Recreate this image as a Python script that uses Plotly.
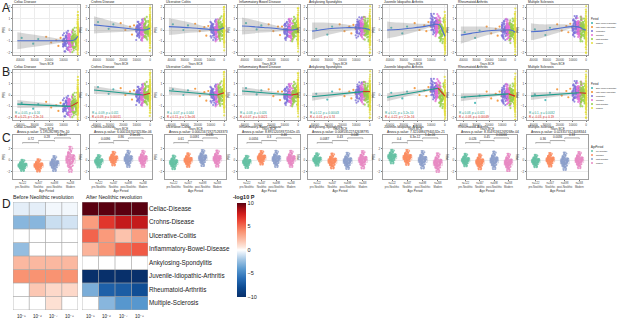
import plotly.graph_objects as go

W, H = 617, 321
def fx(p): return p / W
def fy(p): return 1 - p / H

FONT = "Liberation Sans, Arial, sans-serif"

# ------------------------------------------------------------------ data
TITLES_AB = ["Celiac Disease", "Crohns Disease", "Ulcerative Colitis", "Inflammatory Bowel Disease",
             "Ankylosing Spondylitis", "Juvenile Idiopathic Arthritis", "Rheumatoid Arthritis", "Multiple Sclerosis"]
ROW_LABELS = ["Celiac-Disease", "Crohns-Disease", "Ulcerative-Colitis", "Inflammatory-Bowel-Disease",
              "Ankylosing-Spondylitis", "Juvenile-Idiopathic-Arthritis", "Rheumatoid-Arthritis", "Multiple-Sclerosis"]

YEAR_TICKS = [-40000, -30000, -20000, -10000, 0]
YEAR_TICK_TEXT = ["40000", "30000", "20000", "10000", "0"]
PRS_TICKS = [-2, -1, 0, 1, 2]

PERIODS = ["Early Upper Paleolithic", "Late Upper Paleolithic", "Mesolithic", "Neolithic", "post-Neolithic", "Modern"]
PERIOD_COLORS = ["#36B3B0", "#F28E2B", "#7B6FD8", "#E36FD6", "#93CF4A", "#E3DF3A"]

# loess (panel A)
LOESS_X = [-42000, -34000, -26000, -18000, -11000, -7000, -4000, -2000, 0]
LOESS_Y = [
    [-0.95, -0.95, -0.95, -0.95, -0.95, -0.95, -0.93, -0.85, -0.55],
    [0.45, 0.35, 0.25, 0.15, 0.05, 0.0, 0.0, 0.05, 0.15],
    [0.3, 0.25, 0.2, 0.12, 0.05, 0.0, 0.0, 0.1, 0.2],
    [0.35, 0.3, 0.22, 0.15, 0.05, 0.0, 0.0, 0.05, 0.1],
    [-0.1, 0.05, 0.15, 0.2, 0.2, 0.18, 0.15, 0.08, 0.0],
    [0.0, 0.05, 0.15, 0.25, 0.4, 0.5, 0.45, 0.0, -0.55],
    [-0.45, -0.3, -0.15, -0.05, 0.0, 0.0, 0.0, -0.05, -0.2],
    [-0.15, -0.1, 0.05, 0.2, 0.3, 0.3, 0.2, 0.05, 0.0],
]
LOESS_HW = [0.75, 0.6, 0.45, 0.3, 0.15, 0.08, 0.06, 0.06, 0.12]

# linear fits (panel B)
OLD_X = [-42000, -5000]
OLD_Y = [[-0.8, -1.0], [0.44, 0.0], [0.38, 0.0], [0.35, 0.0],
         [-0.15, 0.3], [-0.2, 0.6], [-0.2, 0.1], [-0.1, 0.2]]
OLD_HW = [0.35, 0.06]
NEW_X = [-5000, 0]
NEW_Y = [[-1.0, -0.65], [0.0, 0.15], [0.0, 0.2], [0.0, 0.1],
         [0.3, 0.3], [0.6, -0.1], [0.1, -0.1], [0.2, 0.15]]
NEW_HW = [0.05, 0.07]
B_STATS_OLD = ["R = -0.05, p = 0.16", "R = -0.09, p = 0.011", "R = -0.07, p = 0.044", "R = -0.08, p = 0.026",
               "R = 0.12, p = 0.00043", "R = 0.21, p = 5.2e-10", "R = 0.08, p = 0.021", "R = 0.1, p = 0.0032"]
B_STATS_NEW = ["R = 0.25, p < 2.2e-16", "R = 0.09, p = 0.00011", "R = 0.11, p = 1.3e-06", "R = 0.07, p = 0.0021",
               "R = -0.01, p = 0.74", "R = -0.22, p < 2.2e-16", "R = -0.08, p = 0.00049", "R = -0.03, p = 0.19"]

# sample clouds (estimated per period: Mesolithic, Neolithic, post-Neolithic, Modern)
CLOUD_MEAN = [
    [-1.0, -1.0, -0.9, -0.5],
    [0.0, 0.0, 0.05, 0.15],
    [0.0, -0.05, 0.1, 0.2],
    [0.0, 0.0, 0.05, 0.1],
    [0.2, 0.15, 0.05, 0.0],
    [0.5, 0.4, -0.1, -0.5],
    [0.0, 0.0, -0.1, -0.2],
    [0.3, 0.2, 0.05, 0.0],
]
CLOUD_SD = [0.42, 0.45, 0.5, 0.95]
CLOUD_X0 = [-10500, -7000, -4500, -200]
CLOUD_X1 = [-5500, -3000, -300, 200]
U = [0.12, 0.85, 0.47, 0.33, 0.91, 0.06, 0.58, 0.74, 0.21, 0.39, 0.97, 0.64, 0.15, 0.52, 0.81,
     0.28, 0.69, 0.03, 0.44, 0.88, 0.36, 0.77, 0.09, 0.61, 0.25, 0.94, 0.49, 0.18, 0.71, 0.55]
Z = [0.3, -1.2, 0.8, -0.1, 1.5, -0.6, 0.0, -1.8, 0.5, 1.1, -0.4, 0.2, -0.9, 1.9, -0.2, 0.6, -1.4, 0.1,
     0.9, -0.7, -0.3, 1.3, -1.0, 0.4, -2.1, 0.7, -0.5, 1.7, -0.05, 0.15,
     1.0, -0.8, 0.35, -1.6, 0.55, -0.25, 1.25, -0.45, 0.05, -1.1, 0.75, 2.2, -0.15, -0.65, 0.45, -1.3, 0.25, -0.35]

# older sparse samples
SPARSE_X = [-39000, -31000, -27500, -22000, -18500, -15000, -13500, -12000, -10500]
SPARSE_Y = [
    [-0.7, -1.2, -0.8, -0.6, -1.1, -0.9, -1.4, -0.7, -1.0],
    [0.7, 0.1, 0.5, 0.6, 0.0, 0.3, -0.4, 0.4, 0.1],
    [0.5, 0.0, 0.4, 0.55, -0.1, 0.25, -0.5, 0.35, 0.0],
    [0.6, 0.05, 0.4, 0.5, -0.1, 0.3, -0.45, 0.3, 0.05],
    [0.1, -0.4, 0.3, 0.5, -0.1, 0.3, -0.3, 0.45, 0.1],
    [0.2, -0.3, 0.3, 0.6, 0.0, 0.4, -0.1, 0.7, 0.3],
    [-0.2, -0.7, -0.05, 0.3, -0.3, 0.1, -0.5, 0.3, -0.1],
    [0.05, -0.45, 0.2, 0.5, -0.05, 0.35, -0.2, 0.55, 0.2],
]

# panel C
AGE_GROUPS = ["pre-Neolithic", "Neolithic", "post-Neolithic", "Modern"]
AGE_N = ["n=122", "n=347", "n=698", "n=268"]
AGE_COLORS = ["#66C2A5", "#FC8D62", "#8DA0CB", "#E78AC3"]
C_MEAN = [
    [-0.9, -0.9, -0.6, 0.1],
    [-0.2, 0.25, 0.2, 0.2],
    [-0.4, 0.0, 0.35, 0.25],
    [-0.3, 0.4, 0.2, 0.2],
    [0.1, -0.15, -0.15, 0.05],
    [0.6, 0.45, 0.05, -0.45],
    [0.0, -0.3, -0.05, -0.4],
    [-0.15, 0.05, -0.2, 0.0],
]
C_SD = [
    [0.45, 0.5, 0.6, 1.0],
    [0.5, 0.55, 0.65, 0.65],
    [0.55, 0.55, 0.65, 0.65],
    [0.5, 0.55, 0.65, 0.65],
    [0.5, 0.6, 0.65, 0.7],
    [0.55, 0.6, 0.7, 0.75],
    [0.5, 0.6, 0.7, 0.7],
    [0.5, 0.55, 0.7, 0.65],
]
C_ANOVA = ["Anova p-value: 5.19528298579e-10", "Anova p-value: 6.00011670232536e-06",
           "Anova p-value: 0.000216719275263373", "Anova p-value: 8.89152059371562e-05",
           "Anova p-value: 0.00853522742638795", "Anova p-value: 7.32168847940532e-21",
           "Anova p-value: 8.35491361269268e-04", "Anova p-value: 0.0233573124038344"]
C_PAIR_P = [["0.72", "0.28", "1.4e-07"], ["0.0096", "0.86", "2.5e-05"], ["0.61", "0.0091", "0.035"],
            ["0.0056", "0.3", "0.46"], ["0.0087", "0.43", "0.048"], ["0.4", "6.3e-12", "1.4e-06"],
            ["0.026", "0.45", "0.00066"], ["0.36", "0.0036", "0.33"]]

# panel D
THRESH = ["10⁻⁵", "10⁻⁶", "10⁻⁷", "10⁻⁸"]
BEFORE = [
    [-0.6, -0.6, -0.3, -0.3],
    [-2.8, -2.8, -1.2, -1.0],
    [0, 0, 0, 0],
    [-2.5, 0, 0, 0],
    [2.4, 2.4, 2.4, 2.4],
    [3.9, 3.9, 3.9, 3.9],
    [0, 1.8, 1.2, 1.2],
    [0, 0, 0.9, 0],
]
AFTER = [
    [10, 10, 10, 10],
    [3.5, 6.8, 8.0, 8.0],
    [5.3, 3.6, 2.0, 3.4],
    [2.6, 3.8, 5.2, 5.6],
    [0, 0, 0, 0],
    [-10, -10, -10, -10],
    [-3.2, -6.8, -7.0, -7.8],
    [0, -2.8, -4.2, -4.2],
]

# ------------------------------------------------------------------ layout helpers
PANEL_X = [(13, 80), (90, 152), (165, 226), (238, 300), (308, 372), (383, 447), (457, 517), (527, 588)]
A_Y = (5, 55)
B_Y = (70, 120)
C_Y = (135, 179)

fig = go.Figure()
layout = {}
shapes = []
annotations = []
counter = [0]

def new_axes(xpx, ypx, xcfg, ycfg):
    counter[0] += 1
    n = counter[0]
    s = "" if n == 1 else str(n)
    layout["xaxis" + s] = dict(domain=[fx(xpx[0]), fx(xpx[1])], anchor="y" + s, **xcfg)
    layout["yaxis" + s] = dict(domain=[fy(ypx[1]), fy(ypx[0])], anchor="x" + s, **ycfg)
    return "x" + s, "y" + s

def panel_style(**kw):
    d = dict(showgrid=True, gridcolor="#ececec", gridwidth=0.5, zeroline=False, showline=True,
             linecolor="#a0a0a0", linewidth=0.6, mirror=True, ticks="outside", ticklen=1.5,
             tickcolor="#777", tickwidth=0.5, tickangle=0,
             tickfont=dict(size=3, color="#444", family=FONT))
    d.update(kw)
    return d

def ax_title(text, size=3):
    return dict(text=text, font=dict(size=size, color="#333", family=FONT), standoff=1)

def txt(x, y, text, size, xref="paper", yref="paper", color="#222", xanchor="left", yanchor="middle", bold=False):
    if bold:
        text = "<b>" + text + "</b>"
    annotations.append(dict(x=x, y=y, xref=xref, yref=yref, text=text, showarrow=False,
                            xanchor=xanchor, yanchor=yanchor, borderpad=0,
                            font=dict(size=size, color=color, family=FONT)))

def add_cloud(xa, ya, i):
    # older sparse samples
    for k, (lo, hi) in enumerate([(-50000, -25000), (-25000, -9000)]):
        xs = [x for x in SPARSE_X if lo <= x < hi]
        ys = [SPARSE_Y[i][j] for j, x in enumerate(SPARSE_X) if lo <= x < hi]
        fig.add_trace(go.Scatter(x=xs, y=ys, mode="markers", xaxis=xa, yaxis=ya, showlegend=False,
                                 marker=dict(size=2.2, color=PERIOD_COLORS[k], opacity=0.85), hoverinfo="skip"))
    n = len(U)
    for k in range(4):
        xs, ys = [], []
        for p in range(2):
            rz = (k * 11 + p * 17 + i * 3) % len(Z)
            zz = Z[rz:] + Z[:rz]
            for j in range(n):
                xs.append(CLOUD_X0[k] + (CLOUD_X1[k] - CLOUD_X0[k]) * U[(j + 5 * k + 13 * p) % n])
                ys.append(CLOUD_MEAN[i][k] + CLOUD_SD[k] * zz[j])
        fig.add_trace(go.Scatter(x=xs, y=ys, mode="markers", xaxis=xa, yaxis=ya, showlegend=False,
                                 marker=dict(size=2.2, color=PERIOD_COLORS[k + 2], opacity=0.8), hoverinfo="skip"))

def add_band(xa, ya, xs, ys, hw, line_color, shape="linear"):
    up = [y + h for y, h in zip(ys, hw)]
    lo = [y - h for y, h in zip(ys, hw)]
    fig.add_trace(go.Scatter(x=xs + xs[::-1], y=up + lo[::-1], fill="toself", mode="none",
                             fillcolor="rgba(140,140,140,0.35)", xaxis=xa, yaxis=ya, showlegend=False,
                             hoverinfo="skip", line=dict(shape=shape)))
    fig.add_trace(go.Scatter(x=xs, y=ys, mode="lines", xaxis=xa, yaxis=ya, showlegend=False,
                             line=dict(color=line_color, width=1.1, shape=shape), hoverinfo="skip"))

X_RANGE = [-45000, 1500]
Y_RANGE = [-2.2, 2.2]

# ------------------------------------------------------------------ panel A
for i in range(8):
    xa, ya = new_axes(PANEL_X[i], A_Y,
                      panel_style(range=X_RANGE, tickvals=YEAR_TICKS, ticktext=YEAR_TICK_TEXT,
                                  title=ax_title("Years BCE")),
                      panel_style(range=Y_RANGE, tickvals=PRS_TICKS, title=ax_title("PRS")))
    add_cloud(xa, ya, i)
    add_band(xa, ya, LOESS_X, LOESS_Y[i], LOESS_HW, "#4F6FD0", shape="spline")
    txt(fx(PANEL_X[i][0]), fy(A_Y[0] - 2.5), TITLES_AB[i], 3.3)

# ------------------------------------------------------------------ panel B
for i in range(8):
    xa, ya = new_axes(PANEL_X[i], B_Y,
                      panel_style(range=X_RANGE, tickvals=YEAR_TICKS, ticktext=YEAR_TICK_TEXT,
                                  title=ax_title("Years BCE")),
                      panel_style(range=Y_RANGE, tickvals=PRS_TICKS, title=ax_title("PRS")))
    add_cloud(xa, ya, i)
    add_band(xa, ya, OLD_X, OLD_Y[i], OLD_HW, "#1E9C8C")
    add_band(xa, ya, NEW_X, NEW_Y[i], NEW_HW, "#D7301F")
    txt(fx(PANEL_X[i][0]), fy(B_Y[0] - 2.5), TITLES_AB[i], 3.3)
    txt(-44000, -1.55, B_STATS_OLD[i], 3, xref=xa, yref=ya, color="#1E9C8C")
    txt(-44000, -1.95, B_STATS_NEW[i], 3, xref=xa, yref=ya, color="#D7301F")

# ------------------------------------------------------------------ panel C
C_RANGE = [-3.2, 4.3]
BRACKET_Y = [3.0, 3.35, 3.8]
for i in range(8):
    xa, ya = new_axes(PANEL_X[i], C_Y,
                      panel_style(range=[-0.6, 3.6], tickvals=[0, 1, 2, 3],
                                  ticktext=[AGE_N[g] + "<br>" + AGE_GROUPS[g] for g in range(4)],
                                  showgrid=False, tickfont=dict(size=2.6, color="#444", family=FONT),
                                  title=ax_title("Age Period")),
                      panel_style(range=C_RANGE, tickvals=[-2, 0, 2], title=ax_title("PRS")))
    for g in range(4):
        n = len(Z)
        xs, ys = [], []
        for p in range(2):
            rot = (g * 13 + i * 5 + p * 23) % n
            zz = Z[rot:] + Z[:rot]
            ys += [C_MEAN[i][g] + C_SD[i][g] * z for z in zz]
            xs += [g] * n
        fig.add_trace(go.Box(x=xs, y=ys, xaxis=xa, yaxis=ya, showlegend=False,
                             boxpoints="all", jitter=0.85, pointpos=0, width=0.6,
                             marker=dict(size=1.8, color=AGE_COLORS[g], opacity=0.85),
                             line=dict(color=AGE_COLORS[g], width=0.4),
                             fillcolor="rgba(230,230,230,0.25)", hoverinfo="skip"))
    for b in range(3):
        y0 = BRACKET_Y[b]
        shapes.append(dict(type="path", xref=xa, yref=ya,
                           path=f"M {b},{y0 - 0.15} L {b},{y0} L {b + 1},{y0} L {b + 1},{y0 - 0.15}",
                           line=dict(color="#555", width=0.5)))
        txt(b + 0.5, y0 + 0.05, C_PAIR_P[i][b], 3, xref=xa, yref=ya, xanchor="center", yanchor="bottom")
    txt(fx(PANEL_X[i][0]), fy(127), ROW_LABELS[i], 3.3)
    txt(fx(PANEL_X[i][0] + 3), fy(132), C_ANOVA[i], 3.3)

# ------------------------------------------------------------------ panel D
D_Y = (202, 310)
COLORSCALE = [[0.0, "#08306b"], [0.1, "#0d4a91"], [0.2, "#2a6fb7"], [0.3, "#5c9bd0"], [0.4, "#a6c8e5"],
              [0.47, "#e4eef8"], [0.5, "#ffffff"], [0.53, "#fde8de"], [0.6, "#fcc2ac"], [0.7, "#f9906f"],
              [0.8, "#ee4d3a"], [0.88, "#d31f1e"], [0.94, "#a50f15"], [1.0, "#5a0010"]]

for side, (data, xpx) in enumerate([(BEFORE, (13, 78)), (AFTER, (82, 148))]):
    ycfg = dict(range=[7.5, -0.5], showgrid=False, zeroline=False, tickvals=list(range(8)),
                showticklabels=False, ticks="")
    if side == 1:
        ycfg.update(side="right", showticklabels=True, ticktext=ROW_LABELS,
                    tickfont=dict(size=6.3, color="#222", family=FONT))
    xa, ya = new_axes(xpx, D_Y,
                      dict(range=[-0.5, 3.5], showgrid=False, zeroline=False, tickvals=[0, 1, 2, 3],
                           showticklabels=False, ticks=""),
                      ycfg)
    hm = dict(z=data, x=[0, 1, 2, 3], y=list(range(8)), xaxis=xa, yaxis=ya, zmin=-10, zmax=10,
              colorscale=COLORSCALE, hoverinfo="skip")
    if side == 0:
        hm["showscale"] = False
    else:
        hm["colorbar"] = dict(x=fx(237), xanchor="left", y=fy(250), yanchor="middle",
                              len=94, lenmode="pixels", thickness=9, thicknessmode="pixels",
                              tickvals=[-10, -5, 0, 5, 10], ticks="", outlinewidth=0,
                              tickfont=dict(size=5.5, color="#222", family=FONT), xpad=0, ypad=0)
    fig.add_trace(go.Heatmap(**hm))
    for c in range(5):
        shapes.append(dict(type="line", xref=xa, yref=ya, x0=c - 0.5, x1=c - 0.5, y0=-0.5, y1=7.5,
                           line=dict(color="#a8a8a8", width=0.7)))
    for r in range(9):
        shapes.append(dict(type="line", xref=xa, yref=ya, x0=-0.5, x1=3.5, y0=r - 0.5, y1=r - 0.5,
                           line=dict(color="#a8a8a8", width=0.7)))
    for c in range(4):
        txt(c, fy(316), THRESH[c], 4.5, xref=xa, yref="paper", xanchor="center", yanchor="middle")

txt(fx(12), fy(197), "Before Neolithic revolution", 5.2)
txt(fx(85), fy(197), "After Neolithic revolution", 5.2)
txt(fx(232), fy(197), "-log10 P", 5.5, bold=True)

# ------------------------------------------------------------------ panel letters
for letter, ypos in [("A", 8), ("B", 72), ("C", 138), ("D", 204)]:
    txt(fx(1), fy(ypos), letter, 12)

# ------------------------------------------------------------------ manual legends
def legend(x0, ytitle, title, labels, colors, step):
    txt(fx(x0), fy(ytitle), title, 2.6)
    for j, (lab, col) in enumerate(zip(labels, colors)):
        yy = ytitle + 4 + j * step
        shapes.append(dict(type="circle", xref="paper", yref="paper",
                           x0=fx(x0 + 1), x1=fx(x0 + 3), y0=fy(yy + 1), y1=fy(yy - 1),
                           fillcolor=col, line=dict(width=0)))
        txt(fx(x0 + 5), fy(yy), lab, 2)

legend(590, 19, "Period", PERIODS, PERIOD_COLORS, 4)
legend(590, 84, "Period", PERIODS, PERIOD_COLORS, 4)
legend(590, 147, "AgePeriod", AGE_GROUPS, AGE_COLORS, 4)

fig.update_layout(
    width=W, height=H, margin=dict(l=0, r=0, t=0, b=0),
    paper_bgcolor="white", plot_bgcolor="white", showlegend=False,
    font=dict(family=FONT), shapes=shapes, annotations=annotations, **layout)

fig.write_html("out.html", config={"displayModeBar": False},
               post_script="document.body.style.margin='0';document.body.style.overflow='hidden';")
